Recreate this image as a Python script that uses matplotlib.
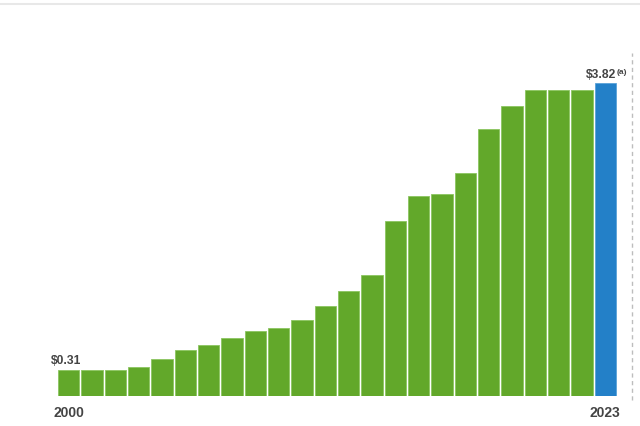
#! /usr/bin/env python3
"""Annual dividend per share, 2000-2023, as a simple bar chart."""

import matplotlib

matplotlib.use("Agg")
import matplotlib.pyplot as plt  # noqa: E402
from matplotlib.lines import Line2D  # noqa: E402

years = list(range(2000, 2024))
dividends = [
    0.31, 0.31, 0.31, 0.345, 0.45, 0.56, 0.62, 0.71, 0.79, 0.83, 0.92, 1.09,
    1.28, 1.48, 2.14, 2.44, 2.47, 2.73, 3.26, 3.54, 3.74, 3.74, 3.74, 3.82,
]
first_label = "$0.31"
last_label = "$3.82"
last_note = "(a)"

GREEN = "#62a82a"
BLUE = "#2380c8"
TEXT = "#444444"

plt.rcParams["font.family"] = ["Liberation Sans", "DejaVu Sans"]

fig = plt.figure(figsize=(6.4, 4.27), dpi=100)
# axes placed so bar pitch and baseline line up with the original
ax = fig.add_axes([57 / 640, 30.5 / 427, 583 / 640, 356.5 / 427])

xs = list(range(len(years)))
colors = [GREEN] * (len(years) - 1) + [BLUE]
edges = ["#8cc560"] * (len(years) - 1) + ["#5aa2d8"]
ax.bar(xs, dividends, width=0.91, color=colors, edgecolor=edges, linewidth=0.6)

ax.set_xlim(-0.5, -0.5 + 583 / 23.33)
ax.set_ylim(0, 356.5 / 81.68)
ax.axis("off")

# value labels on the first and last bar
ax.annotate(first_label, (xs[0] - 0.1, dividends[0]), xytext=(0, 5),
            textcoords="offset points", ha="center", va="baseline",
            fontsize=8.7, fontweight="bold", color=TEXT)
ax.annotate(last_label, (xs[-1] + 0.46, dividends[-1]), xytext=(0, 5),
            textcoords="offset points", ha="right", va="baseline",
            fontsize=8.7, fontweight="bold", color=TEXT)
ax.annotate(last_note, (xs[-1] + 0.49, dividends[-1]), xytext=(0, 7.2),
            textcoords="offset points", ha="left", va="baseline",
            fontsize=6, fontweight="bold", color=TEXT)

# year labels under the end bars
for i in (0, len(years) - 1):
    ax.annotate(str(years[i]), (xs[i], 0), xytext=(0, -15),
                textcoords="offset points", ha="center", va="baseline",
                fontsize=10, fontweight="bold", color=TEXT,
                annotation_clip=False)

# dashed marker right of the last bar
dash_x = -0.5 + (632 - 57) / 23.33
ax.plot([dash_x, dash_x], [-0.06, 4.19], color="#bdbdbd", lw=1,
        ls=(0, (3, 2.5)), clip_on=False)

# faint rule along the top edge
fig.add_artist(Line2D([0, 1], [1 - 4.5 / 427] * 2, color="#e8e8e8", lw=1.5))

fig.savefig("out.png", dpi=100)
